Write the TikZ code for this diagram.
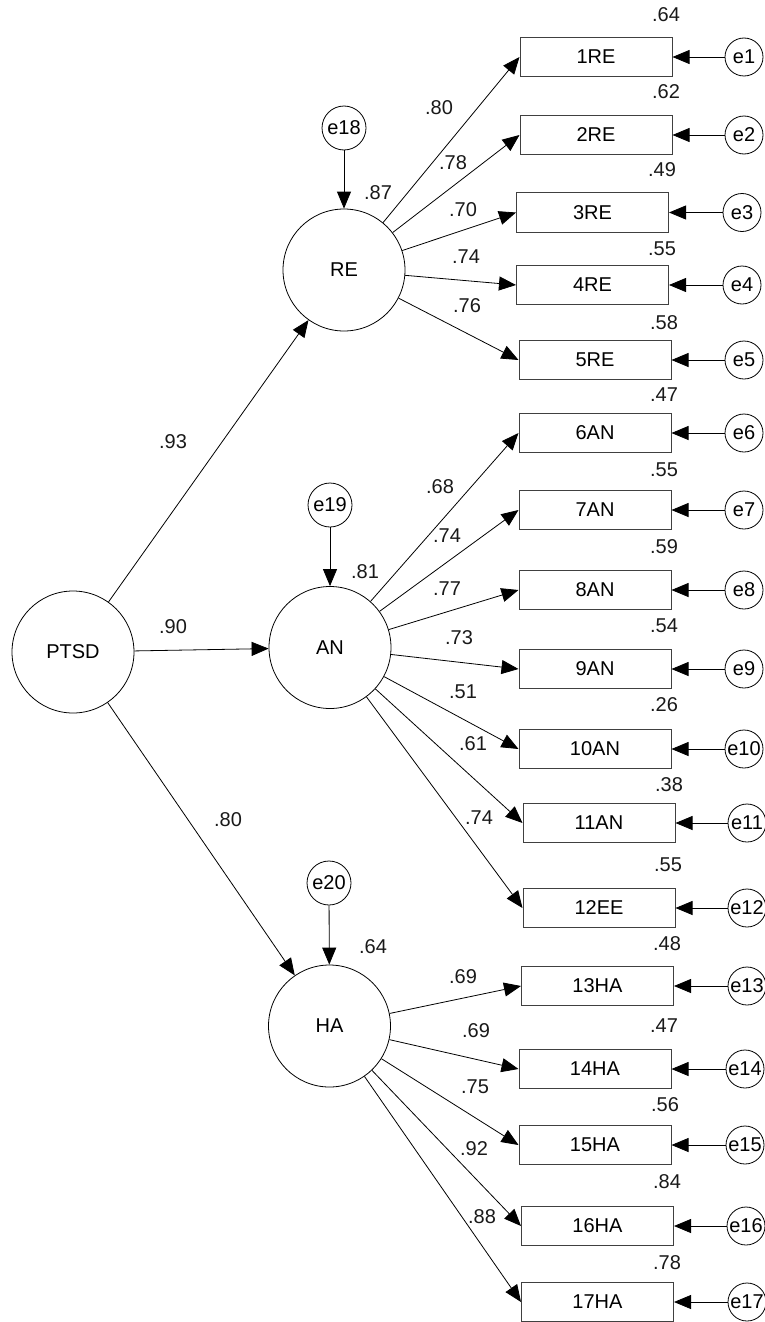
\documentclass[tikz,border=0pt]{standalone}
\usepackage{fontspec}
\setmainfont{Liberation Sans}
\usetikzlibrary{arrows.meta}
\begin{document}
\begin{tikzpicture}[x=1pt,y=-1pt,
  font=\fontsize{20}{24}\selectfont,
  lat/.style={circle,draw,line width=0.8pt,minimum size=122pt,inner sep=0pt},
  err/.style={circle,draw,line width=0.8pt,minimum size=38pt,inner sep=0pt},
  errb/.style={circle,draw,line width=0.8pt,minimum width=44pt,minimum height=42pt,inner sep=0pt},
  obs/.style={rectangle,draw=black!75,line width=1pt,minimum width=152pt,minimum height=39.5pt,inner sep=0pt},
  lab/.style={inner sep=0pt,text=black!90},
  arr/.style={-{Triangle[length=17pt,width=14pt]},line width=0.8pt}]
\useasboundingbox (0,0) rectangle (764,1322);
% latent
\node[lat] (PTSD) at (73,652) {PTSD};
\node[lat] (RE) at (344,270) {RE};
\node[lat] (AN) at (330,647.5) {AN};
\node[lat] (HA) at (329.5,1026) {HA};
% disturbance
\node[errb] (e18) at (344,128) {e18};
\node[errb] (e19) at (330,505) {e19};
\node[errb] (e20) at (329,883) {e20};
% observed
\node[obs] (b1) at (596,57) {1RE};
\node[obs] (b2) at (596,135) {2RE};
\node[obs] (b3) at (592.5,212.5) {3RE};
\node[obs] (b4) at (592.5,285) {4RE};
\node[obs] (b5) at (595,360) {5RE};
\node[obs] (b6) at (595,433) {6AN};
\node[obs] (b7) at (595,510) {7AN};
\node[obs] (b8) at (595,590) {8AN};
\node[obs] (b9) at (595,669) {9AN};
\node[obs] (b10) at (595,749) {10AN};
\node[obs] (b11) at (599,823) {11AN};
\node[obs] (b12) at (599,908) {12EE};
\node[obs] (b13) at (597.5,986) {13HA};
\node[obs] (b14) at (595,1069) {14HA};
\node[obs] (b15) at (595,1145) {15HA};
\node[obs] (b16) at (597.5,1226) {16HA};
\node[obs] (b17) at (597.5,1302) {17HA};
% errors
\node[err] (e1) at (744,57) {e1};
\node[err] (e2) at (744,135) {e2};
\node[err] (e3) at (742,212.5) {e3};
\node[err] (e4) at (742,285) {e4};
\node[err] (e5) at (744,360) {e5};
\node[err] (e6) at (744,433) {e6};
\node[err] (e7) at (744,510) {e7};
\node[err] (e8) at (744,590) {e8};
\node[err] (e9) at (744,669) {e9};
\node[err] (e10) at (744,749) {e10};
\node[err] (e11) at (747,823) {e11};
\node[err] (e12) at (747,908) {e12};
\node[err] (e13) at (747,986) {e13};
\node[err] (e14) at (745,1069) {e14};
\node[err] (e15) at (745,1145) {e15};
\node[err] (e16) at (746,1226) {e16};
\node[err] (e17) at (747,1302) {e17};
% structural paths
\draw[arr] (PTSD) -- (RE);
\draw[arr] (PTSD) -- (AN);
\draw[arr] (PTSD) -- (HA);
\draw[arr] (e18) -- (RE);
\draw[arr] (e19) -- (AN);
\draw[arr] (e20) -- (HA);
% loadings
\foreach \i in {1,...,5} {\draw[arr] (RE) -- (b\i.west);}
\foreach \i in {6,...,12} {\draw[arr] (AN) -- (b\i.west);}
\foreach \i in {13,...,17} {\draw[arr] (HA) -- (b\i.west);}
\foreach \i in {1,...,17} {\draw[arr] (e\i) -- (b\i.east);}
% path labels
\node[lab] (l93) at (173,442) {.93};
\node[lab] (l90) at (173,627) {.90};
\node[lab] (l80p) at (228,820) {.80};
\node[lab] (l87) at (378,193) {.87};
\node[lab] (l81) at (365,572) {.81};
\node[lab] (l64h) at (373,947) {.64};
\node[lab] (r1) at (439,108) {.80};
\node[lab] (r2) at (453,163) {.78};
\node[lab] (r3) at (463,210) {.70};
\node[lab] (r4) at (466,257) {.74};
\node[lab] (r5) at (467,306) {.76};
\node[lab] (a6) at (440,487) {.68};
\node[lab] (a7) at (447,536) {.74};
\node[lab] (a8) at (447,589) {.77};
\node[lab] (a9) at (459,638) {.73};
\node[lab] (a10) at (463,692) {.51};
\node[lab] (a11) at (473,744) {.61};
\node[lab] (a12) at (479,818) {.74};
\node[lab] (h13) at (463,977) {.69};
\node[lab] (h14) at (476,1031) {.69};
\node[lab] (h15) at (475,1087) {.75};
\node[lab] (h16) at (474,1149) {.92};
\node[lab] (h17) at (482,1217) {.88};
% R^2 labels
\node[lab] (s1) at (666,15) {.64};
\node[lab] (s2) at (666,92) {.62};
\node[lab] (s3) at (662,170) {.49};
\node[lab] (s4) at (662,249) {.55};
\node[lab] (s5) at (664,323) {.58};
\node[lab] (s6) at (664,395) {.47};
\node[lab] (s7) at (664,470) {.55};
\node[lab] (s8) at (664,547) {.59};
\node[lab] (s9) at (664,626) {.54};
\node[lab] (s10) at (664,705) {.26};
\node[lab] (s11) at (669,785) {.38};
\node[lab] (s12) at (668,865) {.55};
\node[lab] (s13) at (667,944) {.48};
\node[lab] (s14) at (664,1026) {.47};
\node[lab] (s15) at (665,1105) {.56};
\node[lab] (s16) at (667,1182) {.84};
\node[lab] (s17) at (667,1263) {.78};
\end{tikzpicture}
\end{document}
